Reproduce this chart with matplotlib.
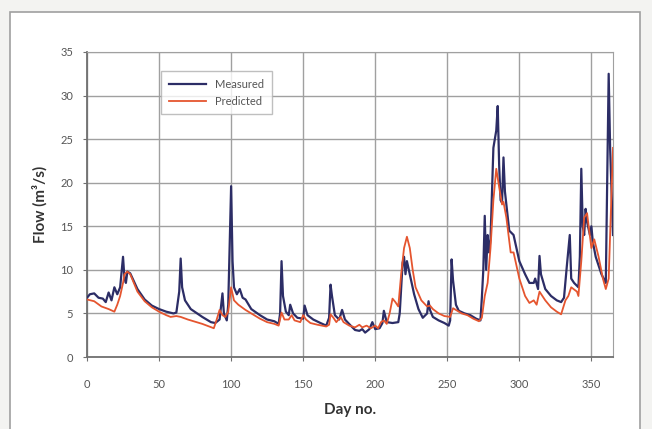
import matplotlib
matplotlib.use("Agg")
import matplotlib.pyplot as plt
from matplotlib.patches import Rectangle

# Measured flow (day, value)
meas_day = [0, 2, 5, 8, 11, 13, 15, 17, 19, 21, 23, 25, 26, 27, 28, 30, 35, 40, 45, 50,
            55, 60, 62, 64, 65, 66, 68, 72, 80, 86, 89, 92, 94, 95, 97, 98, 100, 101, 102, 104,
            106, 108, 110, 114, 120, 125, 130, 133, 134, 135, 136, 138, 140, 141, 143, 146, 150, 151, 153, 157,
            162, 166, 168, 169, 170, 172, 175, 177, 179, 183, 186, 189, 191, 193, 196, 198, 200, 203, 205, 206,
            208, 212, 216, 217, 219, 220, 221, 222, 224, 227, 230, 233, 236, 237, 238, 240, 244, 248, 251, 252,
            253, 254, 256, 258, 262, 266, 270, 273, 274, 275, 276, 277, 278, 279, 280, 282, 284, 285, 286, 287,
            288, 289, 290, 291, 293, 296, 300, 304, 307, 310, 311, 313, 314, 315, 318, 322, 326, 329, 331, 333,
            335, 336, 338, 341, 342, 343, 344, 345, 346, 347, 349, 350, 351, 353, 357, 360, 362, 363, 365]
meas_val = [6.8, 7.2, 7.3, 6.8, 6.7, 6.3, 7.4, 6.5, 8.0, 7.2, 8.0, 11.5, 9.0, 8.5, 9.8, 9.6, 7.8, 6.6, 5.9, 5.5,
            5.2, 5.0, 5.1, 7.5, 11.3, 8.0, 6.5, 5.5, 4.6, 4.0, 3.9, 4.3, 7.3, 5.0, 4.2, 6.0, 19.6, 11.0, 8.0, 7.2,
            7.8, 6.8, 6.6, 5.5, 4.8, 4.3, 4.1, 3.8, 5.0, 11.0, 7.0, 5.2, 4.8, 6.0, 5.0, 4.5, 4.4, 5.9, 4.8, 4.3,
            3.9, 3.6, 4.5, 8.3, 7.0, 4.8, 4.3, 5.4, 4.3, 3.6, 3.1, 3.0, 3.2, 2.8, 3.2, 4.0, 3.2, 3.3, 3.9, 5.3,
            4.0, 3.9, 4.0, 5.0, 10.8, 11.5, 9.5, 11.0, 9.5, 7.2, 5.5, 4.5, 5.0, 6.4, 5.4, 4.6, 4.2, 3.9, 3.6, 4.2,
            11.2, 8.8, 6.0, 5.3, 5.0, 4.8, 4.4, 4.2, 6.8, 10.0, 16.2, 10.0, 14.0, 12.0, 13.5, 24.0, 26.0, 28.8, 22.0, 18.0,
            17.7, 22.9, 19.0, 17.5, 14.5, 14.0, 11.0, 9.5, 8.5, 8.5, 9.0, 7.8, 11.6, 9.5, 7.8, 7.0, 6.5, 6.3, 6.8, 10.5,
            14.0, 9.0, 8.5, 8.0, 11.5, 21.6, 15.0, 14.0, 17.0, 15.5, 14.0, 15.0, 13.2, 11.5, 9.5, 8.5, 32.5, 24.0, 14.0]

# Predicted flow (day, value)
pred_day = [0, 5, 10, 15, 19, 21, 23, 25, 26, 28, 30, 35, 40, 45, 50, 55, 58, 62, 65, 70,
            80, 88, 90, 92, 94, 96, 98, 100, 102, 105, 110, 115, 120, 125, 130, 133, 135, 137, 140, 142,
            144, 148, 150, 152, 155, 160, 166, 168, 169, 171, 173, 176, 178, 182, 186, 189, 191, 194, 197, 200,
            202, 204, 206, 208, 210, 212, 214, 216, 218, 220, 222, 224, 226, 228, 232, 236, 238, 240, 244, 248,
            252, 254, 257, 260, 264, 268, 272, 274, 276, 278, 280, 282, 284, 286, 288, 289, 291, 294, 296, 300,
            304, 307, 310, 312, 314, 318, 322, 326, 329, 332, 334, 336, 340, 341, 343, 345, 347, 350, 352, 355,
            358, 360, 362, 365]
pred_val = [6.6, 6.4, 5.8, 5.5, 5.2, 6.0, 7.0, 8.5, 9.5, 9.8, 9.5, 7.5, 6.4, 5.7, 5.2, 4.8, 4.6, 4.7, 4.6, 4.3,
            3.8, 3.3, 4.3, 5.4, 4.8, 4.6, 5.2, 8.0, 6.5, 6.0, 5.4, 4.9, 4.4, 4.0, 3.8, 3.6, 5.1, 4.3, 4.3, 4.8,
            4.2, 4.0, 4.8, 4.3, 3.9, 3.7, 3.5, 3.7, 4.9, 4.5, 4.0, 4.6, 4.0, 3.6, 3.4, 3.7, 3.4, 3.6, 3.3, 3.6,
            3.3, 4.0, 4.2, 3.8, 5.0, 6.7, 6.3, 5.8, 9.5, 12.5, 13.8, 12.5, 10.0, 8.0, 6.5, 5.8, 5.9, 5.5, 5.0, 4.7,
            4.6, 5.6, 5.3, 5.0, 4.8, 4.4, 4.1, 4.5, 7.0, 8.5, 12.5, 18.0, 21.6, 19.5, 17.5, 17.8, 16.0, 12.0, 12.0, 9.0,
            7.0, 6.2, 6.5, 6.0, 7.5, 6.5, 5.7, 5.2, 4.9, 6.5, 7.0, 8.0, 7.5, 7.0, 11.0, 16.0, 16.5, 12.5, 13.5, 11.5,
            9.0, 7.8, 9.0, 24.0]

x_ticks = [0, 50, 100, 150, 200, 250, 300, 350]
y_ticks = [0, 5, 10, 15, 20, 25, 30, 35]

FAM = ["Lato", "DejaVu Sans"]

fig = plt.figure(figsize=(6.52, 4.29), dpi=100)
fig.patch.set_facecolor("#f3f3f1")
frame = Rectangle((10/652, -0.02), 630/652, 1 - 12/429 + 0.02, transform=fig.transFigure,
                  facecolor="white", edgecolor="#a0a0a0", linewidth=1.2, zorder=-10)
fig.add_artist(frame)

ax = fig.add_axes([87/652, 1 - 357/429, (613 - 87)/652, (357 - 52)/429])
ax.set_zorder(5)
ax.set_facecolor("white")
ax.plot(meas_day, meas_val, color="#2c2d66", lw=1.6, label="Measured", zorder=3)
ax.plot(pred_day, pred_val, color="#e5552f", lw=1.3, label="Predicted", zorder=4)

ax.set_xlim(0, 365)
ax.set_ylim(0, 35)
ax.set_xticks(x_ticks)
ax.set_yticks(y_ticks)
ax.grid(True, color="#a0a0a0", lw=1.0)
ax.set_axisbelow(True)
for s in ["top", "right"]:
    ax.spines[s].set_color("#a0a0a0")
for s in ["left", "bottom"]:
    ax.spines[s].set_color("#707070")
    ax.spines[s].set_linewidth(1.3)
ax.tick_params(axis="both", colors="#707070", labelcolor="#555555", labelsize=8, length=3)
ax.tick_params(axis="x", pad=13)
ax.tick_params(axis="y", pad=7)
for lbl in ax.get_xticklabels() + ax.get_yticklabels():
    lbl.set_family(FAM)

ax.set_xlabel("Day no.", fontsize=11, fontweight="bold", color="#333333", labelpad=9, family=FAM)
ax.set_ylabel("Flow (m³/s)", fontsize=11, fontweight="bold", color="#333333", labelpad=9, family=FAM)

leg = ax.legend(loc="upper left", bbox_to_anchor=(0.13, 0.955), frameon=True,
                fancybox=False, edgecolor="#b0b0b0", handlelength=3.4, borderpad=0.7,
                labelspacing=0.5, prop={"family": FAM, "size": 8})
leg.get_frame().set_linewidth(1.0)
for t in leg.get_texts():
    t.set_color("#555555")

fig.savefig("out.png", dpi=100, facecolor=fig.get_facecolor())
